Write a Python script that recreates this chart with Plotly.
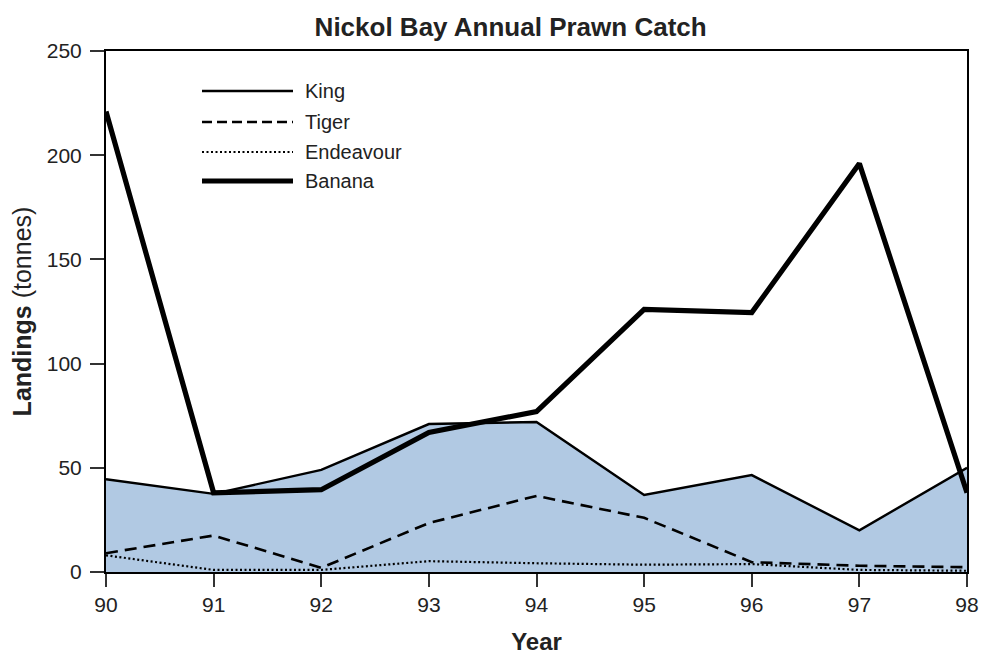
import plotly.graph_objects as go

years = [90, 91, 92, 93, 94, 95, 96, 97, 98]
king = [44.5, 37.5, 49, 71, 72, 37, 46.5, 20, 50]
tiger = [9, 17.5, 2, 23.5, 36.5, 26, 4.7, 3, 2.3]
endeavour = [8, 1, 1, 5.2, 4.2, 3.5, 3.8, 1, 0.6]
banana = [221, 38, 39.5, 67, 77, 126, 124.5, 196, 38]

series_names = ["King", "Tiger", "Endeavour", "Banana"]
series_dash = ["solid", "12px,7px", "2px,2.5px", "solid"]
series_width = [2.4, 2.6, 2.2, 5.2]

FONT = "Liberation Sans, Arial, sans-serif"
TXT = "#222222"
FILL = "#B1C9E3"

fig = go.Figure()
fig.add_trace(go.Scatter(x=years, y=king, mode="none", fill="tozeroy",
                         fillcolor=FILL, showlegend=False, hoverinfo="skip"))
for name, vals, dash, w in zip(series_names, [king, tiger, endeavour, banana],
                               series_dash, series_width):
    fig.add_trace(go.Scatter(x=years, y=vals, mode="lines", name=name,
                             line=dict(color="black", width=w, dash=dash),
                             showlegend=False))

# Hand-drawn legend (long line samples as in the reference)
L, T, R, B = 106, 51, 982 - 967, 657 - 572
W, H = 982 - L - R, 657 - T - B
def px(x):
    return (x - L) / W
def py(y):
    return 1 - (y - T) / H

legend_dash = ["solid", "10px,5px", "2px,2.5px", "solid"]
legend_y = [91, 122, 152, 181]
for name, dash, w, yy in zip(series_names, legend_dash, series_width, legend_y):
    fig.add_shape(type="line", xref="paper", yref="paper",
                  x0=px(202), x1=px(293), y0=py(yy), y1=py(yy),
                  line=dict(color="black", width=w, dash=dash))
    fig.add_annotation(xref="paper", yref="paper", x=px(303), y=py(yy),
                       text=name, showarrow=False, xanchor="left", yanchor="middle",
                       font=dict(family=FONT, size=20, color=TXT))

fig.update_layout(
    width=982, height=657,
    margin=dict(l=L, r=R, t=T, b=B, autoexpand=False),
    paper_bgcolor="white", plot_bgcolor="white",
    title=dict(text="<b>Nickol Bay Annual Prawn Catch</b>", x=0.52, xref="container",
               xanchor="center", y=0.959, yanchor="middle",
               font=dict(family=FONT, size=26, color=TXT)),
    font=dict(family=FONT, color=TXT),
    showlegend=False,
)
fig.update_xaxes(range=[90, 98], tickvals=years, ticktext=[str(y) for y in years],
                 showgrid=False, zeroline=False, showline=True, linecolor="black",
                 linewidth=2, mirror=True, ticks="outside", ticklen=13, tickwidth=1.5,
                 tickcolor="#333", tickfont=dict(family=FONT, size=21, color=TXT),
                 automargin=False,
                 title=dict(text="<b>Year</b>", font=dict(family=FONT, size=24, color=TXT),
                            standoff=18))
fig.update_yaxes(range=[0, 250], tickvals=[0, 50, 100, 150, 200, 250],
                 showgrid=False, zeroline=False, showline=True, linecolor="black",
                 linewidth=2, mirror=True, ticks="outside", ticklen=14, tickwidth=1.5,
                 tickcolor="#333", tickfont=dict(family=FONT, size=21, color=TXT),
                 ticklabelstandoff=4, automargin=False,
                 title=dict(text="<b>Landings</b> (tonnes)",
                            font=dict(family=FONT, size=25, color=TXT), standoff=8))

fig.write_html("out.html", config={"displayModeBar": False},
               post_script="document.body.style.margin='0';document.body.style.overflow='hidden';")
